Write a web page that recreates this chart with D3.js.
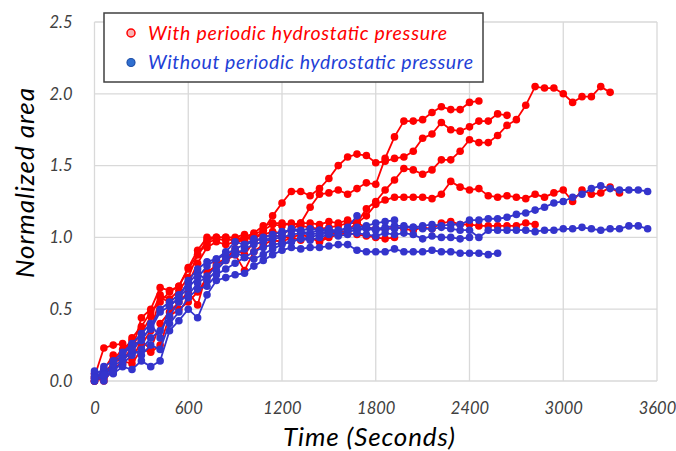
<!DOCTYPE html>
<html>
<head>
<meta charset="utf-8">
<script src="https://cdn.jsdelivr.net/npm/d3@7"></script>
<style>
body { margin: 0; background: #fff; }
svg { display: block; }
</style>
</head>
<body>
<div id="chart"></div>
<script>
// sampling times (s), one reading per minute
const times = [0,60,120,180,240,300,360,420,480,540,600,660,720,780,840,900,960,1020,1080,1140,
  1200,1260,1320,1380,1440,1500,1560,1620,1680,1740,1800,1860,1920,1980,2040,2100,2160,2220,2280,2340,
  2400,2460,2520,2580,2640,2700,2760,2820,2880,2940,3000,3060,3120,3180,3240,3300,3360,3420,3480,3540];

const xTicks = [0, 600, 1200, 1800, 2400, 3000, 3600];
const yTicks = [0, 0.5, 1.0, 1.5, 2.0, 2.5];

// with periodic hydrostatic pressure
const withA = [0.03,0.23,0.25,0.26,0.21,0.44,0.50,0.65,0.63,0.66,0.79,0.91,1.00,1.00,1.00,1.00,1.02,1.00,1.02,1.04,
  1.03,1.05,1.10,1.21,1.30,1.31,1.33,1.30,1.34,1.38,1.37,1.55,1.70,1.81,1.81,1.82,1.87,1.91,1.89,1.89,1.94,1.95];
const withB = [0,0.08,0.18,0.12,0.25,0.33,0.45,0.60,0.57,0.63,0.72,0.88,0.96,0.99,0.98,0.99,1.00,0.98,1.05,1.15,
  1.24,1.32,1.32,1.29,1.34,1.41,1.50,1.56,1.58,1.57,1.52,1.53,1.55,1.56,1.60,1.69,1.72,1.80,1.75,1.74,
  1.77,1.81,1.81,1.86,1.85];
const withC = [0,0.05,0.10,0.20,0.15,0.28,0.22,0.40,0.48,0.55,0.62,0.53,0.76,0.80,0.84,0.88,0.77,0.90,0.95,0.98,
  0.97,1.00,1.02,1.00,0.97,1.02,1.03,1.05,1.10,1.20,1.25,1.33,1.40,1.48,1.47,1.44,1.47,1.54,1.54,1.60,
  1.68,1.66,1.66,1.71,1.78,1.82,1.92,2.05,2.04,2.04,2.00,1.94,1.98,1.98,2.05,2.01];
const withD = [0.05,0.02,0.15,0.22,0.28,0.25,0.35,0.58,0.55,0.60,0.68,0.82,0.93,0.97,0.95,0.97,1.00,1.03,1.08,1.10,
  1.10,1.09,1.10,1.10,1.09,1.11,1.10,1.12,1.10,1.15,1.23,1.26,1.28,1.28,1.28,1.28,1.27,1.30,1.39,1.35,
  1.33,1.34,1.29,1.28,1.29,1.28,1.27,1.30,1.28,1.31,1.33,1.25,1.33,1.30,1.31,1.35,1.31];
const withE = [0,0.06,0.12,0.18,0.30,0.38,0.48,0.55,0.62,0.66,0.78,0.88,0.98,1.00,1.00,0.97,0.98,1.02,1.05,1.09,
  1.08,1.10,1.08,1.07,1.06,1.07,1.08,1.10,1.10,1.07,1.06,1.06,1.07,1.06,1.05,1.07,1.06,1.10,1.11,1.09,
  1.09,1.08,1.08,1.08,1.08,1.08,1.10,1.09];
const withF = [0.02,0,0.08,0.14,0.12,0.22,0.20,0.25,0.45,0.50,0.55,0.62,0.72,0.82,0.85,0.92,0.88,0.97,1.00,1.02,
  1.00,1.00,0.98,1.00,0.97,1.00,1.02,1.03,1.02,1.01,1.00,0.99,1.00];

// without periodic hydrostatic pressure
const withoutA = [0.05,0.08,0.05,0.10,0.08,0.14,0.10,0.14,0.35,0.42,0.50,0.44,0.60,0.70,0.72,0.74,0.75,0.80,0.84,0.88,
  0.91,0.93,0.92,0.93,0.93,0.94,0.95,0.95,0.91,0.90,0.90,0.90,0.92,0.90,0.90,0.90,0.91,0.90,0.90,0.89,
  0.89,0.89,0.88,0.89];
const withoutB = [0,0.03,0.10,0.15,0.20,0.30,0.36,0.48,0.52,0.58,0.65,0.72,0.80,0.85,0.88,0.92,0.95,0.97,1.00,1.02,
  1.04,1.05,1.04,1.03,1.05,1.04,1.05,1.06,1.06,1.07,1.06,1.07,1.08,1.08,1.07,1.08,1.09,1.08,1.09,1.09,
  1.12,1.12,1.13,1.13,1.14,1.16,1.17,1.19,1.21,1.24,1.25,1.28,1.30,1.34,1.36,1.34,1.33,1.33,1.33,1.32];
const withoutC = [0.07,0,0.08,0.12,0.18,0.22,0.30,0.35,0.45,0.55,0.60,0.68,0.73,0.80,0.85,0.88,0.92,0.95,0.97,0.99,
  1.00,1.02,1.03,1.02,1.03,1.04,1.03,1.04,1.05,1.06,1.05,1.06,1.06,1.07,1.07,1.06,1.06,1.07,1.06,1.05,
  1.05,1.00,1.05,1.05,1.05,1.05,1.05,1.04,1.05,1.05,1.06,1.06,1.07,1.06,1.05,1.06,1.06,1.08,1.08,1.06];
const withoutD = [0.03,0.05,0.12,0.18,0.25,0.28,0.38,0.50,0.55,0.60,0.68,0.75,0.70,0.77,0.84,0.90,0.86,0.90,0.93,0.95,
  0.96,0.97,0.99,0.98,1.00,1.02,1.01,1.02,1.03,1.02,1.01,1.03,1.02,1.03,1.02,0.99,1.01,1.00,1.00,0.99,1.00];
const withoutE = [0,0.10,0.14,0.20,0.26,0.33,0.40,0.30,0.52,0.58,0.70,0.78,0.83,0.85,0.90,0.97,0.95,0.99,0.98,1.00,
  1.02,1.06,1.05,1.06,1.05,1.06,1.04,1.07,1.15];
const withoutF = [0.02,0.04,0.06,0.14,0.22,0.18,0.25,0.22,0.40,0.48,0.58,0.64,0.66,0.74,0.78,0.82,0.86,0.85,0.88,0.92,
  0.95,0.97,0.99,1.00,1.02,1.03,1.05,1.06,1.07,1.08,1.10,1.11,1.12];

const redSeries = [withA, withB, withC, withD, withE, withF];
const blueSeries = [withoutA, withoutB, withoutC, withoutD, withoutE, withoutF];

const width = 676, height = 451;
const red = '#ff0000', blue = '#3434cc';
const font = 'Lato, "Open Sans", sans-serif';

const svg = d3.select('#chart')
    .append('svg')
    .attr('width', width)
    .attr('height', height);

let scaleX = d3.scaleLinear().domain([0, 3600]).range([94.5, 657]);
let scaleY = d3.scaleLinear().domain([0, 2.5]).range([381, 22]);

// grid
svg.append('g').selectAll('line.h')
    .data(yTicks)
    .enter().append('line')
    .attr('x1', scaleX(0)).attr('x2', scaleX(3600))
    .attr('y1', d => scaleY(d)).attr('y2', d => scaleY(d))
    .style('stroke', '#d9d9d9').style('stroke-width', 1.3);

svg.append('g').selectAll('line.v')
    .data(xTicks)
    .enter().append('line')
    .attr('x1', d => scaleX(d)).attr('x2', d => scaleX(d))
    .attr('y1', scaleY(0)).attr('y2', scaleY(2.5))
    .style('stroke', '#d9d9d9').style('stroke-width', 1.3);

// axes (labels only, the grid draws the lines)
let xAxis = d3.axisBottom(scaleX).tickValues(xTicks).tickSize(0).tickPadding(21).tickFormat(d3.format('d'));
let yAxis = d3.axisLeft(scaleY).tickValues(yTicks).tickSize(0).tickPadding(22).tickFormat(d3.format('.1f'));

let xAxisGroup = svg.append('g')
    .attr('transform', 'translate(0,' + scaleY(0) + ')')
    .call(xAxis);
let yAxisGroup = svg.append('g')
    .attr('transform', 'translate(' + scaleX(0) + ',0)')
    .call(yAxis);

[xAxisGroup, yAxisGroup].forEach(g => {
    g.select('.domain').remove();
    g.selectAll('text')
        .style('font-family', font)
        .style('font-style', 'italic')
        .style('font-size', '16.5px')
        .style('fill', '#404040');
});

// series
function drawSeries(list, color) {
    let line = d3.line()
        .x((d, i) => scaleX(times[i]))
        .y(d => scaleY(d));
    list.forEach(vals => {
        let g = svg.append('g');
        g.append('path')
            .attr('d', line(vals))
            .style('fill', 'none')
            .style('stroke', color)
            .style('stroke-width', 1.8);
        g.selectAll('circle')
            .data(vals)
            .enter().append('circle')
            .attr('cx', (d, i) => scaleX(times[i]))
            .attr('cy', d => scaleY(d))
            .attr('r', 3.8)
            .style('fill', color);
    });
}
drawSeries(redSeries, red);
drawSeries(blueSeries, blue);

// axis titles
svg.append('text')
    .attr('x', 369)
    .attr('y', 446)
    .attr('textLength', 172)
    .style('text-anchor', 'middle')
    .style('font-family', font)
    .style('font-style', 'italic')
    .style('font-size', '26px')
    .style('fill', '#000')
    .text('Time (Seconds)');

svg.append('text')
    .attr('transform', 'translate(34,' + 183 + ') rotate(-90)')
    .attr('textLength', 190)
    .style('text-anchor', 'middle')
    .style('font-family', font)
    .style('font-style', 'italic')
    .style('font-size', '26px')
    .style('fill', '#000')
    .text('Normalized area');

// legend
let legend = svg.append('g');
legend.append('rect')
    .attr('x', 104).attr('y', 13)
    .attr('width', 379).attr('height', 69)
    .style('fill', '#fff')
    .style('stroke', '#404040')
    .style('stroke-width', 1.5);

legend.append('circle')
    .attr('cx', 131).attr('cy', 33).attr('r', 4)
    .style('fill', '#f8b4b4').style('stroke', red).style('stroke-width', 1.5);
legend.append('circle')
    .attr('cx', 131).attr('cy', 62.5).attr('r', 4)
    .style('fill', '#2f6fd0').style('stroke', '#1f4fa8').style('stroke-width', 1.2);

legend.append('text')
    .attr('x', 148).attr('y', 40)
    .attr('textLength', 299)
    .style('font-family', font)
    .style('font-style', 'italic')
    .style('font-size', '19.5px')
    .style('fill', red)
    .text('With periodic hydrostatic pressure');
legend.append('text')
    .attr('x', 148).attr('y', 69)
    .attr('textLength', 325)
    .style('font-family', font)
    .style('font-style', 'italic')
    .style('font-size', '19.5px')
    .style('fill', '#1f3fd6')
    .text('Without periodic hydrostatic pressure');
</script>
</body>
</html>
